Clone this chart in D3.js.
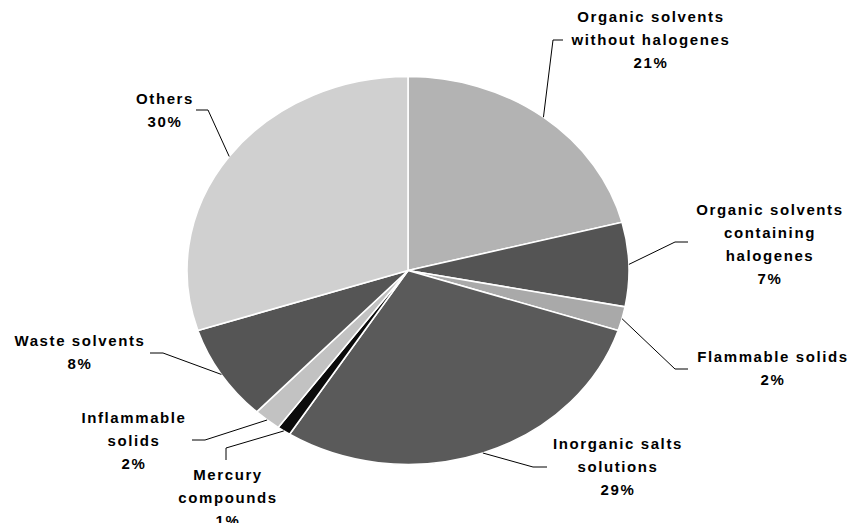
<!DOCTYPE html>
<html>
<head>
<meta charset="utf-8">
<script src="https://cdn.jsdelivr.net/npm/d3@7"></script>
<style>
  html, body { margin: 0; padding: 0; background: #fff; }
  svg { display: block; }
  .lbl { font-family: "Liberation Sans", Arial, sans-serif; font-weight: bold; font-size: 15px; letter-spacing: 1.6px; fill: #000; }
</style>
</head>
<body>
<svg id="chart" width="859" height="523"></svg>
<script>
// Waste categories, clockwise from 12 o'clock
const categories = [
  "Organic solvents\nwithout halogenes",
  "Organic solvents\ncontaining\nhalogenes",
  "Flammable solids",
  "Inorganic salts\nsolutions",
  "Mercury\ncompounds",
  "Inflammable\nsolids",
  "Waste solvents",
  "Others"
];
// Share of each category, percent
const values = [21, 7, 2, 29, 1, 2, 8, 30];
// Slice fills
const colors = ["#b3b3b3", "#545454", "#a9a9a9", "#5a5a5a", "#0b0b0b", "#c2c2c2", "#555555", "#d0d0d0"];

// Label block centres and leader-line elbows
const labelCenters = [[651, 39], [770, 244], [773, 368], [618, 466], [228, 497], [134, 440], [80, 352], [165, 110]];
const leaderElbows = [
  [[553, 40], [563, 40]],
  [[675, 242], [688, 242]],
  [[675, 369], [688, 369]],
  [[533, 467], [547, 467]],
  [[226, 448], [226, 460]],
  [[205, 440], [192, 440]],
  [[163, 353], [150, 353]],
  [[208, 110], [196, 110]]
];

const svg = d3.select("#chart");
const cx = 408, cy = 270.5, rx = 221, ry = 194;

const pie = d3.pie().sort(null).value(d => d);
const arcs = pie(values);
const arc = d3.arc().innerRadius(0).outerRadius(rx);

const g = svg.append("g")
  .attr("transform", `translate(${cx},${cy}) scale(1,${ry / rx})`);

g.selectAll("path.slice")
  .data(arcs)
  .join("path")
  .attr("class", "slice")
  .attr("d", arc)
  .attr("fill", (d, i) => colors[i])
  .attr("stroke", "#fff")
  .attr("stroke-width", 1.6)
  .attr("stroke-linejoin", "round")
  .attr("vector-effect", "non-scaling-stroke");

// Point on the elliptical rim at a slice's middle angle
function rimPoint(d) {
  const a = (d.startAngle + d.endAngle) / 2;
  return [cx + rx * Math.sin(a), cy - ry * Math.cos(a)];
}

const line = d3.line();
svg.append("g").selectAll("path")
  .data(arcs)
  .join("path")
  .attr("d", (d, i) => line([rimPoint(d), ...leaderElbows[i]]))
  .attr("fill", "none")
  .attr("stroke", "#000")
  .attr("stroke-width", 1);

const lineH = 23;
const labels = svg.append("g").selectAll("text")
  .data(arcs)
  .join("text")
  .attr("class", "lbl")
  .attr("text-anchor", "middle");

labels.each(function (d, i) {
  const lines = categories[i].split("\n").concat([values[i] + "%"]);
  const [lx, ly] = labelCenters[i];
  const top = ly - (lines.length - 1) * lineH / 2;
  d3.select(this).selectAll("tspan")
    .data(lines)
    .join("tspan")
    .attr("x", lx)
    .attr("y", (t, k) => top + k * lineH + 5.5)
    .text(t => t);
});
</script>
</body>
</html>
